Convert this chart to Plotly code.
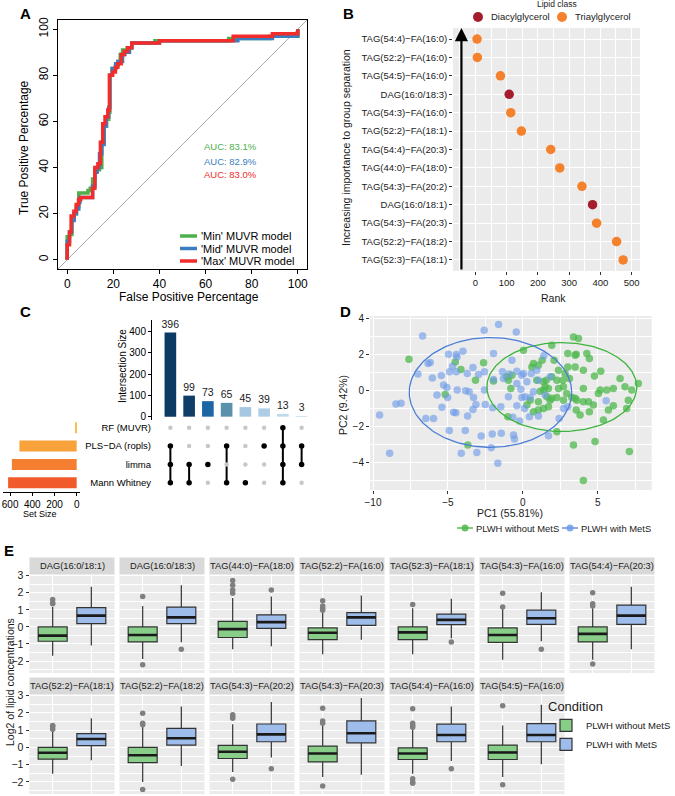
import numpy as np
import plotly.graph_objects as go

W, H = 675, 796
def fx(p): return p / W
def fy(p): return 1 - p / H
FONT = "Liberation Sans, Arial, sans-serif"

# ---------------- Panel A : ROC curves ----------------
roc_min_fpr = [0, 0, 1, 2, 3, 4, 5, 9, 10, 11, 12, 14, 15, 16, 17, 18, 18.5, 19.5, 21, 22, 23, 24, 26, 28, 38, 70, 88, 100, 100]
roc_min_tpr = [0, 10, 11, 18, 20, 23, 29, 30, 31, 35, 39, 40, 51, 58, 61, 64, 80, 83, 84, 86, 89, 91, 92, 94, 95, 96, 97, 97, 100]
roc_mid_fpr = [0, 0, 1, 2, 3, 4, 5, 5.5, 10.5, 11, 12, 13, 14, 15, 16, 17, 18, 18.5, 19.5, 21, 22, 24, 25, 27, 28, 40, 74, 89, 100, 100]
roc_mid_tpr = [0, 8, 12, 17, 20, 22, 25, 27, 27, 32, 38, 40, 46, 50, 58, 62, 66, 80, 83, 85, 86, 89, 90, 92, 94, 95, 96, 97, 97, 100]
roc_max_fpr = [0, 0, 1, 1.7, 2.9, 3.9, 4.9, 5.8, 11, 12, 13.3, 14.4, 15.4, 16.4, 17.6, 18.3, 19.7, 20.9, 21.9, 23.4, 24.8, 26.2, 28, 40, 72, 89, 100, 100]
roc_max_tpr = [0, 6.5, 12, 19, 21, 24, 26, 27, 31, 40, 41.7, 51, 59, 62, 65, 80, 81.5, 83.5, 85, 89, 90.5, 92, 94, 95, 97, 98, 98, 100]
roc_names = ["'Min' MUVR model", "'Mid' MUVR model", "'Max' MUVR model"]
roc_colors = ["#4DB04A", "#3A7EC0", "#F22B2B"]
auc_labels = ["AUC: 83.1%", "AUC: 82.9%", "AUC: 83.0%"]
auc_label_y = [49, 42.6, 37]
A_RANGE = [-4, 104]
A_TICKS = [0, 20, 40, 60, 80, 100]

# ---------------- Panel B : rank dot plot ----------------
b_lipids = ["TAG(54:4)−FA(16:0)", "TAG(52:2)−FA(16:0)", "TAG(54:5)−FA(16:0)", "DAG(16:0/18:3)",
            "TAG(54:3)−FA(16:0)", "TAG(52:2)−FA(18:1)", "TAG(54:4)−FA(20:3)", "TAG(44:0)−FA(18:0)",
            "TAG(54:3)−FA(20:2)", "DAG(16:0/18:1)", "TAG(54:3)−FA(20:3)", "TAG(52:2)−FA(18:2)",
            "TAG(52:3)−FA(18:1)"]
b_rank = [5, 6, 80, 108, 113, 147, 241, 270, 341, 375, 388, 452, 473]
b_class = ["Triaylglycerol", "Triaylglycerol", "Triaylglycerol", "Diacylglycerol", "Triaylglycerol",
           "Triaylglycerol", "Triaylglycerol", "Triaylglycerol", "Triaylglycerol", "Diacylglycerol",
           "Triaylglycerol", "Triaylglycerol", "Triaylglycerol"]
b_classes = ["Diacylglycerol", "Triaylglycerol"]
b_class_colors = ["#A51D2D", "#F4822C"]
B_XRANGE = [-72, 527]
B_ARROW_X = -45

# ---------------- Panel C : UpSet ----------------
c_sets = ["RF (MUVR)", "PLS−DA (ropls)", "limma", "Mann Whitney"]
c_set_sizes = [13, 516, 584, 618]
c_set_colors = ["#F8C04A", "#F7A23A", "#F47F30", "#F15A2B"]
c_inter_sizes = [396, 99, 73, 65, 45, 39, 13, 3]
c_inter_members = [["PLS−DA (ropls)", "limma", "Mann Whitney"], ["limma", "Mann Whitney"], ["limma"],
                   ["PLS−DA (ropls)", "Mann Whitney"], ["Mann Whitney"], ["PLS−DA (ropls)"],
                   ["RF (MUVR)", "PLS−DA (ropls)", "limma", "Mann Whitney"], ["PLS−DA (ropls)", "limma"]]
c_inter_colors = ["#0C3A62", "#113E66", "#1B66A3", "#5A91AD", "#A5C7E1", "#AFCDE5", "#BFD8EB", "#D4E5F2"]

# ---------------- Panel D : PCA ----------------
pca_without = [(-7.6, 1.74), (-5.18, -0.22), (-4.51, 1.59), (-4.13, 1.17), (-3.67, -3.04), (-3.16, 0.57),
               (-2.62, 1.54), (-1.96, 0.52), (-1.0, -1.46), (-0.96, 0.57), (0.04, 2.24), (0.6, 1.31),
               (0.71, 1.5), (1.04, 1.41), (1.29, 1.69), (1.93, 2.52), (3.0, 2.06), (3.38, 2.98), (3.71, 2.89),
               (3.49, 1.96), (3.56, 2.02), (4.27, 2.06), (4.44, 1.78), (4.04, 1.13), (3.49, 1.31), (3.0, 1.31),
               (2.82, 0.94), (2.67, 0.57), (2.27, 0.57), (1.93, 0.76), (1.56, 0.57), (1.49, 0.2), (1.38, 0.02),
               (1.16, -0.04), (1.04, -0.63), (0.49, -0.54), (0.71, -1.19), (1.04, -1.09), (1.38, -1.0),
               (1.71, -0.91), (1.93, -0.44), (2.27, -0.39), (2.38, 0.11), (2.71, 0.2), (2.93, -0.17),
               (3.27, -0.39), (3.6, -0.54), (3.56, -1.09), (3.82, -1.37), (4.04, -0.63), (4.38, -0.63),
               (4.71, -0.81), (5.04, -0.17), (5.6, 0.02), (5.71, -1.09), (6.04, -0.85), (6.49, 0.67),
               (6.82, 0.2), (7.04, -0.54), (7.27, 0.02), (7.71, 0.39), (6.93, -1.0), (5.38, -1.65),
               (4.44, -1.19), (3.38, -3.04), (4.82, -2.85), (7.11, -3.41), (4.04, -5.02), (2.27, -2.3),
               (5.2, 1.07), (4.78, 0.8), (5.16, 0.02), (1.82, -0.54), (1.6, -0.35), (0.27, -0.81),
               (3.11, 0.67), (2.38, 1.13), (2.09, 1.69), (1.71, 0.11), (-0.73, 0.85), (-1.07, 0.76),
               (-0.8, 0.11), (0.93, 0.57), (1.38, 0.48), (3.49, -0.44), (4.04, 0.11), (2.71, -0.54), (6.04, 0.11)]
pca_with = [(-1.62, 3.67), (-2.58, 3.35), (-0.44, 3.26), (-6.69, 3.04), (-4.96, 2.02), (-4.44, 2.0), (-4.0, 2.19),
            (-4.4, 1.87), (-1.96, 2.06), (-0.73, 1.69), (-6.33, 1.5), (-6.18, 1.56), (-7.0, 0.91), (-6.04, 0.7),
            (-5.44, 0.83), (-4.89, 1.04), (-4.69, 1.35), (-3.71, 0.94), (-3.33, 1.28), (-2.96, 0.89),
            (-2.56, 1.04), (-1.36, 1.04), (-1.96, 0.61), (-2.56, 0.02), (-3.29, -0.39), (-3.82, -0.02),
            (-4.38, 0.02), (-5.29, 0.3), (-5.07, 0.17), (-5.02, -0.39), (-5.4, -0.94), (-4.62, -1.22),
            (-4.47, -1.24), (-3.69, -1.43), (-3.33, -1.06), (-3.13, -0.78), (-2.51, -0.78), (-2.02, -0.96),
            (-1.47, -0.91), (-0.96, -0.35), (-0.4, -0.85), (0.13, -0.35), (-0.07, -0.39), (0.11, -1.0),
            (-0.67, -1.5), (-0.22, -1.7), (0.44, -1.46), (1.04, -1.43), (2.42, -1.56), (1.71, -2.52),
            (-0.62, -2.48), (-0.56, -2.7), (-1.44, -2.39), (-2.04, -2.43), (-2.11, -3.19), (-2.78, -2.54),
            (-3.84, -2.24), (-4.91, -2.24), (-3.07, -3.46), (-4.11, -3.5), (-1.67, -4.06), (-9.56, -1.37),
            (-8.89, -3.5), (-8.47, -0.76), (-8.13, -0.72), (-6.47, -1.56), (-5.96, -1.57), (0.71, -0.07),
            (-0.07, 0.85), (-0.4, 1.07), (0.04, 0.94), (0.56, 0.94), (1.04, 0.57), (1.4, 1.93), (0.93, 1.13),
            (1.82, 0.76), (-0.4, 0.39), (-0.13, 0.06), (0.27, 0.48), (1.49, -0.26), (2.71, -1.0), (3.0, -0.91),
            (5.56, -0.57), (0.49, -0.39), (-1.29, 0.67), (-0.91, 0.91), (-4.44, 1.04), (-3.58, -0.07),
            (-5.73, -0.26)]
# ellipse parameters: centre x, centre y, semi-axis x, semi-axis y
ell_without = (2.6, 0.19, 5.0, 2.48)
ell_with = (-2.16, -0.11, 5.42, 3.06)
d_groups = ["PLWH without MetS", "PLWH with MetS"]
d_point_colors = ["#4DB84D", "#6D9BE8"]
d_line_colors = ["#3DB53D", "#4A7ED6"]

# ---------------- Panel E : boxplots ----------------
e_lipids = ["DAG(16:0/18:1)", "DAG(16:0/18:3)", "TAG(44:0)−FA(18:0)", "TAG(52:2)−FA(16:0)",
            "TAG(52:3)−FA(18:1)", "TAG(54:3)−FA(16:0)", "TAG(54:4)−FA(20:3)",
            "TAG(52:2)−FA(18:1)", "TAG(52:2)−FA(18:2)", "TAG(54:3)−FA(20:2)", "TAG(54:3)−FA(20:3)",
            "TAG(54:4)−FA(16:0)", "TAG(54:5)−FA(16:0)"]
# without MetS: lower whisker, q1, median, q3, upper whisker
e_g_lo = [-1.69, -1.88, -1.31, -1.6, -1.6, -1.93, -1.93, -1.52, -2.0, -1.42, -1.72, -1.52, -1.72]
e_g_q1 = [-0.84, -0.88, -0.62, -0.75, -0.75, -0.9, -0.88, -0.68, -0.88, -0.64, -0.84, -0.7, -0.7]
e_g_med = [-0.51, -0.47, -0.13, -0.34, -0.32, -0.47, -0.41, -0.31, -0.45, -0.25, -0.35, -0.35, -0.29]
e_g_q3 = [0.0, 0.0, 0.32, -0.06, 0.0, -0.06, 0.0, 0.0, 0.0, 0.12, 0.08, -0.02, 0.14]
e_g_hi = [1.16, 1.22, 1.69, 0.84, 1.09, 1.09, 1.09, 1.0, 1.25, 1.35, 1.3, 1.08, 1.27]
e_g_out = [[1.35, 1.4, 1.6], [1.78, -2.21], [1.97, 2.16, 2.44, 2.72], [0.98, 1.09, 1.22, 1.54], [1.31],
           [1.16, 1.97], [1.22, 1.35, 2.0, -2.17], [1.05, 1.21, 1.28], [1.31, 1.4, 1.99, -2.44],
           [1.7, 1.79, 1.9, -1.85], [1.4, 1.54, 2.28, -2.24], [1.17, 1.27, 1.4, 2.24, -1.81, -2.0, -2.07],
           [2.42, -2.16]]
# with MetS
e_b_lo = [-1.09, -0.9, -1.13, -0.75, -0.66, -0.84, -1.31, -0.74, -1.07, -0.58, -1.58, -0.78, -0.97]
e_b_q1 = [0.19, 0.19, -0.09, 0.09, 0.13, 0.15, 0.15, 0.1, 0.14, 0.33, 0.27, 0.33, 0.33]
e_b_med = [0.66, 0.56, 0.28, 0.56, 0.41, 0.51, 0.66, 0.49, 0.53, 0.76, 0.82, 0.72, 0.72]
e_b_q3 = [1.13, 1.16, 0.71, 0.84, 0.75, 0.98, 1.28, 0.8, 1.11, 1.36, 1.54, 1.35, 1.38]
e_b_hi = [2.35, 2.44, 1.78, 1.84, 1.65, 2.03, 2.35, 1.7, 2.38, 2.63, 2.87, 2.38, 2.48]
e_b_out = [[], [-1.31], [2.16], [], [-0.88], [-1.31], [], [], [], [-1.23], [], [-1.23], []]
e_box_fill = ["#88CE88", "#9EBDEA"]
E_YRANGE = [-2.7, 3.1]
E_YTICKS = [-2, -1, 0, 1, 2, 3]

# =====================================================================
fig = go.Figure()
layout = dict(width=W, height=H, margin=dict(l=0, r=0, t=0, b=0, autoexpand=False), paper_bgcolor="white",
              plot_bgcolor="white", font=dict(family=FONT, size=10, color="#333333"))
annotations, shapes = [], []
GREY_BG = "#EBEBEB"
TICKC = "#333333"

def grey_axis(domain, rng, tickvals, anchor, ticktext=None, showlabels=True, minor=None, ticks="outside",
              size=10):
    d = dict(domain=domain, range=rng, tickvals=tickvals, showgrid=True, gridcolor="white", gridwidth=1.1,
             zeroline=False, showline=False, ticks=ticks if showlabels else "", ticklen=3, tickcolor=TICKC,
             showticklabels=showlabels, tickfont=dict(size=size, color="#1A1A1A"), anchor=anchor,
             automargin=False)
    if ticktext is not None:
        d["ticktext"] = ticktext
    if minor is not None:
        d["minor"] = dict(dtick=minor[0], tick0=minor[1], showgrid=True, gridcolor="white", gridwidth=0.55, ticks="")
    return d

def title_ann(text, x, y, size=10.5, angle=0, color="#1A1A1A", xanchor="center"):
    annotations.append(dict(text=text, x=fx(x), y=fy(y), xref="paper", yref="paper", showarrow=False,
                            textangle=angle, font=dict(size=size, color=color), xanchor=xanchor, yanchor="middle"))

def key_dot(cx, cy, r, color, opacity=1.0):
    shapes.append(dict(type="circle", xref="paper", yref="paper", x0=fx(cx - r), x1=fx(cx + r),
                       y0=fy(cy + r), y1=fy(cy - r), fillcolor=color, opacity=opacity, line=dict(width=0)))

def key_line(x0, x1, y, color, width):
    shapes.append(dict(type="line", xref="paper", yref="paper", x0=fx(x0), x1=fx(x1), y0=fy(y), y1=fy(y),
                       line=dict(color=color, width=width)))

# ---------------- A ----------------
fig.add_trace(go.Scatter(x=A_RANGE, y=A_RANGE, mode="lines", line=dict(color="#AAAAAA", width=1),
                         showlegend=False, hoverinfo="skip", xaxis="x", yaxis="y"))
for fpr, tpr, name, col in zip([roc_min_fpr, roc_mid_fpr, roc_max_fpr], [roc_min_tpr, roc_mid_tpr, roc_max_tpr],
                               roc_names, roc_colors):
    fig.add_trace(go.Scatter(x=fpr, y=tpr, mode="lines", name=name, line=dict(color=col, width=3.5, shape="hv"),
                             xaxis="x", yaxis="y", showlegend=False))
axA = dict(range=A_RANGE, tickvals=A_TICKS, ticks="outside", ticklen=4, tickcolor="black", showline=True,
           linecolor="black", linewidth=1, mirror=True, showgrid=False, zeroline=False,
           tickfont=dict(size=12, color="black"), automargin=False)
layout["xaxis"] = dict(axA, domain=[fx(58), fx(307)], anchor="y")
layout["yaxis"] = dict(axA, domain=[fy(269), fy(20)], anchor="x", tickangle=-90)
for lab, yv, col in zip(auc_labels, auc_label_y, roc_colors):
    annotations.append(dict(text=lab, x=71, y=yv, xref="x", yref="y", showarrow=False,
                            font=dict(size=9.5, color=col)))
title_ann("False Positive Percentage", 189, 297, size=12, color="black")
title_ann("True Positive Percentage", 24, 148, size=12, angle=-90, color="black")
for k, (name, col) in enumerate(zip(roc_names, roc_colors)):
    ly = 236 + k * 12.5
    key_line(180, 197, ly, col, 3.5)
    title_ann(name, 199, ly, size=11, color="black", xanchor="left")

# ---------------- B ----------------
b_pos = list(range(1, len(b_lipids) + 1))
for cls, col in zip(b_classes, b_class_colors):
    xs = [r for r, c in zip(b_rank, b_class) if c == cls]
    ys = [p for p, c in zip(b_pos, b_class) if c == cls]
    fig.add_trace(go.Scatter(x=xs, y=ys, mode="markers", name=cls, marker=dict(color=col, size=9.5),
                             xaxis="x2", yaxis="y2", showlegend=False))
layout["xaxis2"] = grey_axis([fx(453), fx(640)], B_XRANGE, [0, 100, 200, 300, 400, 500], "y2", minor=(50, 0),
                             size=9.5)
layout["yaxis2"] = grey_axis([fy(271), fy(28)], [len(b_lipids) + 0.6, 0.4], b_pos, "x2", ticktext=b_lipids,
                             size=9.5)
shapes.append(dict(type="rect", xref="x2 domain", yref="y2 domain", x0=0, x1=1, y0=0, y1=1,
                   fillcolor=GREY_BG, line=dict(width=0), layer="below"))
annotations.append(dict(x=B_ARROW_X, y=0.4, ax=B_ARROW_X, ay=len(b_lipids) + 0.6, xref="x2", yref="y2",
                        axref="x2", ayref="y2", text="", showarrow=True, arrowhead=2, arrowsize=1.2,
                        arrowwidth=2.2, arrowcolor="black"))
title_ann("Rank", 553, 298, size=10.5)
title_ann("Increasing importance to group separation", 346, 148, size=10.5, angle=-90)
title_ann("Lipid class", 557, 4, size=8.5)
for cls, col, kx in zip(b_classes, b_class_colors, [478, 562]):
    key_dot(kx, 17, 5, col)
    title_ann(cls, kx + 11, 17, size=9.5, xanchor="left")

# ---------------- C ----------------
c_x = list(range(1, len(c_inter_sizes) + 1))
c_row = {s: len(c_sets) - i for i, s in enumerate(c_sets)}
fig.add_trace(go.Bar(x=c_x, y=c_inter_sizes, marker=dict(color=c_inter_colors, line=dict(width=0)), width=0.62,
                     text=[str(v) for v in c_inter_sizes], textposition="outside", cliponaxis=False,
                     constraintext="none", textfont=dict(size=10.5, color="#1A1A1A"), showlegend=False,
                     xaxis="x3", yaxis="y3"))
C_XRANGE = [0.02, 8.98]
layout["xaxis3"] = dict(domain=[fx(152), fx(320)], range=C_XRANGE, showticklabels=False, ticks="",
                        showline=True, linecolor="black", linewidth=1, showgrid=False, zeroline=False,
                        anchor="y3", automargin=False)
layout["yaxis3"] = dict(domain=[fy(419), fy(320)], range=[-11, 455], tickvals=[0, 100, 200, 300, 400],
                        ticks="outside", ticklen=3, tickcolor="black", showline=True, linecolor="black",
                        linewidth=1, showgrid=False, zeroline=False, tickfont=dict(size=10, color="black"),
                        anchor="x3", automargin=False)
title_ann("Intersection Size", 122, 366, size=10, angle=-90, color="black")
gx, gy, bx, by = [], [], [], []
for xi, mem in zip(c_x, c_inter_members):
    rows = [c_row[s] for s in mem]
    for s in c_sets:
        if s in mem:
            bx.append(xi); by.append(c_row[s])
        else:
            gx.append(xi); gy.append(c_row[s])
    if len(rows) > 1:
        fig.add_trace(go.Scatter(x=[xi, xi], y=[min(rows), max(rows)], mode="lines",
                                 line=dict(color="black", width=2), showlegend=False, xaxis="x4", yaxis="y4"))
fig.add_trace(go.Scatter(x=gx, y=gy, mode="markers", marker=dict(color="#C8C8C8", size=4.5),
                         showlegend=False, xaxis="x4", yaxis="y4"))
fig.add_trace(go.Scatter(x=bx, y=by, mode="markers", marker=dict(color="black", size=5.5),
                         showlegend=False, xaxis="x4", yaxis="y4"))
C_MAT_DOMAIN = [fy(492), fy(418.5)]
layout["xaxis4"] = dict(domain=[fx(152), fx(320)], range=C_XRANGE, visible=False, anchor="y4", automargin=False)
layout["yaxis4"] = dict(domain=C_MAT_DOMAIN, range=[0.5, 4.5], tickvals=[c_row[s] for s in c_sets],
                        ticktext=c_sets, ticks="", showgrid=False, zeroline=False, showline=False,
                        tickfont=dict(size=9.5, color="black"), anchor="x4", automargin=False)
for s in c_sets[1::2]:
    shapes.append(dict(type="rect", xref="x4 domain", yref="y4", x0=0, x1=1, y0=c_row[s] - 0.48,
                       y1=c_row[s] + 0.48, fillcolor="#F0F0F0", line=dict(width=0), layer="below"))
fig.add_trace(go.Bar(x=c_set_sizes, y=[c_row[s] for s in c_sets], orientation="h", width=0.6,
                     marker=dict(color=c_set_colors, line=dict(width=0)), showlegend=False,
                     xaxis="x5", yaxis="y5"))
layout["xaxis5"] = dict(domain=[fx(3), fx(80)], range=[664, -30], tickvals=[0, 200, 400, 600], ticks="outside",
                        ticklen=3, tickcolor="black", showline=True, linecolor="black", linewidth=1,
                        showgrid=False, zeroline=False, tickfont=dict(size=10, color="black"), anchor="y5",
                        automargin=False, tickangle=0)
layout["yaxis5"] = dict(domain=C_MAT_DOMAIN, range=[0.5, 4.5], visible=False, anchor="x5", automargin=False)
title_ann("Set Size", 40, 514, size=9, color="black")

# ---------------- D ----------------
t = np.linspace(0, 2 * np.pi, 200)
for pts, pc, op in zip([pca_without, pca_with], d_point_colors, [0.75, 0.62]):
    xs, ys = zip(*pts)
    fig.add_trace(go.Scatter(x=list(xs), y=list(ys), mode="markers", marker=dict(color=pc, size=7.5, opacity=op),
                             showlegend=False, xaxis="x6", yaxis="y6"))
for ell, lc in zip([ell_without, ell_with], d_line_colors):
    cx, cy, a, b = ell
    fig.add_trace(go.Scatter(x=cx + a * np.cos(t), y=cy + b * np.sin(t), mode="lines",
                             line=dict(color=lc, width=1.3), showlegend=False, hoverinfo="skip",
                             xaxis="x6", yaxis="y6"))
layout["xaxis6"] = grey_axis([fx(370), fx(651.7)], [-10.2, 8.6], [-10, -5, 0, 5], "y6", minor=(2.5, 0),
                             size=10)
layout["yaxis6"] = grey_axis([fy(490), fy(316)], [-5.55, 4.15], [-4, -2, 0, 2, 4], "x6", minor=(1, 0),
                             size=10)
shapes.append(dict(type="rect", xref="x6 domain", yref="y6 domain", x0=0, x1=1, y0=0, y1=1,
                   fillcolor=GREY_BG, line=dict(width=0), layer="below"))
title_ann("PC1 (55.81%)", 510, 513, size=10.5)
title_ann("PC2 (9.42%)", 343, 405, size=10.5, angle=-90)
for name, pc, lc, kx in zip(d_groups, d_point_colors, d_line_colors, [465, 570]):
    key_line(kx - 8, kx + 8, 528, lc, 1.3)
    key_dot(kx, 528, 3.5, pc, 0.85)
    title_ann(name, kx + 9, 528, size=9.4, xanchor="left")

# ---------------- E ----------------
E_ROWS = [(574, 673), (694, 794)]
E_X0, E_STEP, E_W, STRIP_H = 29.5, 90, 85, 16.5
BOX_W = 0.75
for i, name in enumerate(e_lipids):
    row = 0 if i < 7 else 1
    col = i if i < 7 else i - 7
    ax = 7 + i
    xa, ya = f"x{ax}", f"y{ax}"
    x0 = E_X0 + col * E_STEP
    y0, y1 = E_ROWS[row]
    layout[f"xaxis{ax}"] = grey_axis([fx(x0), fx(x0 + E_W)], [0.4, 2.6], [1, 2], ya, showlabels=False)
    layout[f"yaxis{ax}"] = grey_axis([fy(y1), fy(y0)], E_YRANGE, E_YTICKS, xa, showlabels=(col == 0),
                                     minor=(0.5, 0.5), size=10.5)
    shapes.append(dict(type="rect", xref=f"{xa} domain", yref=f"{ya} domain", x0=0, x1=1, y0=0, y1=1,
                       fillcolor=GREY_BG, line=dict(width=0), layer="below"))
    shapes.append(dict(type="rect", xref="paper", yref="paper", x0=fx(x0), x1=fx(x0 + E_W), y0=fy(y0),
                       y1=fy(y0 - STRIP_H), fillcolor="#D9D9D9", line=dict(width=0)))
    annotations.append(dict(text=name, x=fx(x0 + E_W / 2), y=fy(y0 - STRIP_H / 2), xref="paper", yref="paper",
                            showarrow=False, font=dict(size=9.3, color="#1A1A1A"), xanchor="center",
                            yanchor="middle"))
    stats = [(e_g_lo[i], e_g_q1[i], e_g_med[i], e_g_q3[i], e_g_hi[i], e_g_out[i]),
             (e_b_lo[i], e_b_q1[i], e_b_med[i], e_b_q3[i], e_b_hi[i], e_b_out[i])]
    for k, (lo, q1, med, q3, hi, out) in enumerate(stats):
        xc = k + 1
        fig.add_trace(go.Box(x=[xc], q1=[q1], median=[med], q3=[q3], lowerfence=[lo], upperfence=[hi],
                             width=BOX_W, whiskerwidth=0, boxpoints=False, fillcolor=e_box_fill[k],
                             line=dict(color="#333333", width=1.2), name=d_groups[k],
                             showlegend=(i == 0), legend="legend", xaxis=xa, yaxis=ya, hoverinfo="skip"))
        fig.add_trace(go.Scatter(x=[xc - BOX_W / 2, xc + BOX_W / 2], y=[med, med], mode="lines",
                                 line=dict(color="#1A1A1A", width=2.6), showlegend=False, xaxis=xa, yaxis=ya,
                                 hoverinfo="skip"))
        if out:
            fig.add_trace(go.Scatter(x=[xc] * len(out), y=out, mode="markers",
                                     marker=dict(color="#7F7F7F", size=5.5), showlegend=False,
                                     xaxis=xa, yaxis=ya, hoverinfo="skip"))
title_ann("Log2 of lipid concentrations", 10, 682, size=10.5, angle=-90)
layout["legend"] = dict(x=fx(546), y=fy(694), xanchor="left", yanchor="top", bgcolor="rgba(0,0,0,0)",
                        font=dict(size=9.5, color="#1A1A1A"),
                        title=dict(text="Condition", font=dict(size=13, color="#1A1A1A")))

# panel letters
for lab, x, y in [("A", 25, 13), ("B", 348, 13), ("C", 25, 312), ("D", 345, 312), ("E", 9, 550)]:
    annotations.append(dict(text=f"<b>{lab}</b>", x=fx(x), y=fy(y), xref="paper", yref="paper",
                            showarrow=False, font=dict(size=15, color="black"), xanchor="center",
                            yanchor="middle"))

layout["annotations"] = annotations
layout["shapes"] = shapes
fig.update_layout(**layout)
fig.write_html("out.html", config={"displayModeBar": False},
               post_script="document.body.style.margin='0';")
